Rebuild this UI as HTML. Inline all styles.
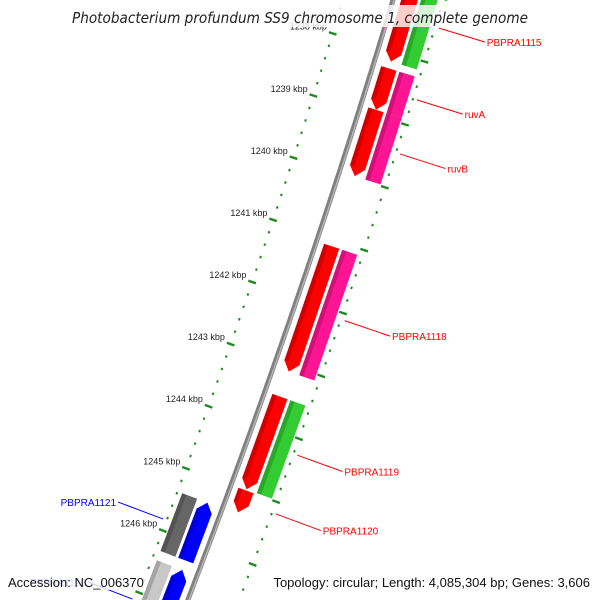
<!DOCTYPE html>
<html><head><meta charset="utf-8"><style>
html,body{margin:0;background:#fff;width:600px;height:600px;overflow:hidden}
svg{display:block}
</style></head><body>
<svg id="map" width="600" height="600" viewBox="0 0 600 600" xmlns="http://www.w3.org/2000/svg" font-family="Liberation Sans, sans-serif">
<g id="layer"></g>
<rect x="60" y="5" width="480" height="22" fill="#fff" fill-opacity="0.8"/>
<text x="300" y="23" text-anchor="middle" font-size="15.3" font-style="italic" fill="#222" font-family="DejaVu Sans, sans-serif" textLength="456" lengthAdjust="spacingAndGlyphs">Photobacterium profundum SS9 chromosome 1, complete genome</text>
<rect x="4" y="570" width="142" height="20" fill="#fff" fill-opacity="0.8"/>
<text x="8" y="587" font-size="13" fill="#111">Accession: NC_006370</text>
<rect x="256" y="570" width="338" height="20" fill="#fff" fill-opacity="0.8"/>
<text x="590" y="587" text-anchor="end" font-size="13" fill="#111">Topology: circular; Length: 4,085,304 bp; Genes: 3,606</text>
</svg>
<script>
// Data
const geneNames = ['PBPRA1115','ruvA','ruvB','PBPRA1118','PBPRA1119','PBPRA1120','PBPRA1121','PBPRA1122'];
const geneStart = [1236.5,1238.26,1238.92,1241.1,1243.5,1245.0,1245.37,1246.45];
const geneEnd   = [1238.15,1238.92,1239.98,1243.1,1244.98,1245.35,1246.3,1247.8];
const geneStrand = [1,1,1,1,1,1,-1,-1];
const geneCategoryColor = ['#33cc33','#ff1493','#ff1493','#ff1493','#33cc33',null,'#666666','#c8c8c8'];
const tickKbp = [1238,1239,1240,1241,1242,1243,1244,1245,1246];

const layer=document.getElementById('layer');
const NS='http://www.w3.org/2000/svg';
function yb(kb){return 110+(kb-1239)*62.5;}
function bx(y){return 393-0.3*y-7e-5*y*y;}
function pt(kb,d){const y=yb(kb),x=bx(y),dx=-0.3-1.4e-4*y,n=Math.sqrt(1+dx*dx);return [x+d/n,y-d*dx/n];}
function mk(tag,attrs){const e=document.createElementNS(NS,tag);for(const k in attrs)e.setAttribute(k,attrs[k]);return e;}
function polyStr(a){return a.map(p=>p[0].toFixed(1)+','+p[1].toFixed(1)).join(' ');}

let bp=[];for(let kb=1236;kb<=1248.5;kb+=0.1)bp.push(pt(kb,0));
const back=mk('polyline',{points:polyStr(bp),fill:'none',stroke:'#808080','stroke-width':5});


layer.appendChild(back);
const backHi=mk('polyline',{points:polyStr(bp.map(p=>[p[0]+1,p[1]+0.3])),fill:'none',stroke:'#b5b5b5','stroke-width':1.5});


layer.appendChild(backHi);

for(const side of [-48,48]){
  for(let i=6180;i<=6245;i++){
    const kb=i/5;
    const major=(i%5===0);
    const a=pt(kb,side-(major?4:1)),b=pt(kb,side+(major?4:1));
    const t=mk('line',{x1:a[0],y1:a[1],x2:b[0],y2:b[1],stroke:'#1e8c1e','stroke-width':2.4});
    
    
    layer.appendChild(t);
  }
}
tickKbp.forEach(kb=>{
  const p=pt(kb,-54);
  const t=mk('text',{x:p[0],y:p[1]-2,'text-anchor':'end','font-size':9,fill:'#222'});
  t.textContent=kb+' kbp';
  
  
  layer.appendChild(t);
});

function block(s,e,d1,d2,color,strand,arrow,name){
  let pts;
  const hl=0.14;
  if(arrow&&strand>0){
    const m=(d1+d2)/2;
    pts=[pt(s,d1),pt(s,d2),pt(e-hl,d2),pt(e,m),pt(e-hl,d1)];
  }else if(arrow&&strand<0){
    const m=(d1+d2)/2;
    pts=[pt(s+hl,d1),pt(s,m),pt(s+hl,d2),pt(e,d2),pt(e,d1)];
  }else pts=[pt(s,d1),pt(s,d2),pt(e,d2),pt(e,d1)];
  const g=mk('polygon',{points:polyStr(pts),fill:color});
  
  
  layer.appendChild(g);
  const dd=d1+(d2-d1)*0.28;
  const s2=s+(arrow&&strand<0?hl:0), e2=e-(arrow&&strand>0?hl:0);
  const sh=mk('polygon',{points:polyStr([pt(s2,d1),pt(s2,dd),pt(e2,dd),pt(e2,d1)]),fill:'#000','fill-opacity':0.18});
  
  
  layer.appendChild(sh);
}

geneNames.forEach((nm,i)=>{
  const s=geneStart[i],e=geneEnd[i],st=geneStrand[i];
  const sg=st>0?1:-1;
  const inner=st>0?[8,24]:[-24,-8];
  const outer=st>0?[27,43]:[-43,-27];
  block(s,e,inner[0],inner[1],st>0?'#ff0000':'#0000ff',st,true,'gene-'+nm);
  if(geneCategoryColor[i])block(s,e,outer[0],outer[1],geneCategoryColor[i],st,false,'category-'+nm);
  const kb=(i===0)?1237.45:(s+e)/2;
  const a=pt(kb,sg*52),b=pt(kb,sg*100);
  const ln=mk('line',{x1:a[0],y1:a[1],x2:b[0],y2:b[1],stroke:st>0?'#ff0000':'#0000ff','stroke-width':1});
  
  
  layer.appendChild(ln);
  const tx=mk('text',{x:b[0]+(sg>0?2:-2),y:b[1]+4,'text-anchor':sg>0?'start':'end','font-size':10,fill:st>0?'#ff0000':'#0000ff'});
  tx.textContent=nm;
  
  
  layer.appendChild(tx);
});
</script>
</body></html>
